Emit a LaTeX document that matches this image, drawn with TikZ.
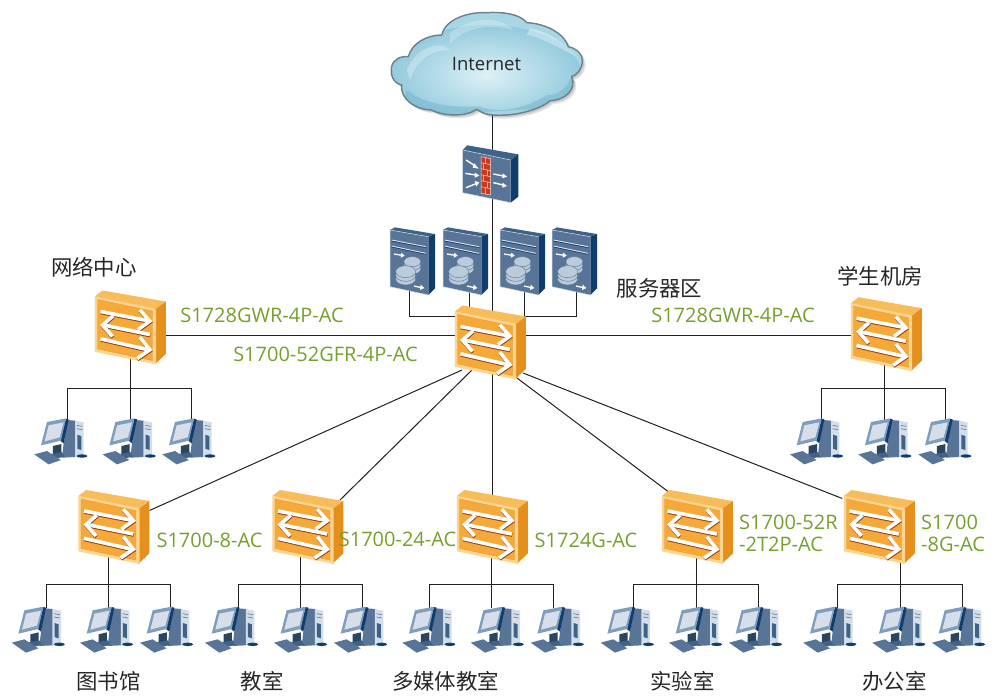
\documentclass[tikz,border=0pt]{standalone}
\usepackage{fontspec}
\setmainfont{Open Sans}
\newfontfamily\cjk{Noto Sans CJK SC}
\definecolor{grn}{HTML}{74A02C}
\definecolor{lnk}{HTML}{202020}
\definecolor{swfront}{HTML}{F6A938}
\definecolor{swtop}{HTML}{F9BC5A}
\definecolor{swside}{HTML}{E58F1C}
\definecolor{swedge}{HTML}{FBD48F}
\definecolor{swframe}{HTML}{E09A35}
\definecolor{shd}{HTML}{8A3A14}
\definecolor{navy}{HTML}{0F3E6E}
\definecolor{steel}{HTML}{587597}
\definecolor{steeltop}{HTML}{3F6288}
\definecolor{disk}{HTML}{BCCBDA}
\definecolor{scr}{HTML}{D6DEE9}
\definecolor{bez}{HTML}{7F9DBD}
\definecolor{towr}{HTML}{D3DEE8}
\definecolor{cldin}{HTML}{DCF1F6}
\definecolor{cldout}{HTML}{93CADD}
\definecolor{cldfill}{HTML}{A8D6E5}
\definecolor{clddark}{HTML}{74B6CF}
\definecolor{cldline}{HTML}{6C8087}
\tikzset{
 dev/.style={inner sep=0pt,minimum width=40pt,minimum height=40pt},
 link/.style={draw=lnk,line width=1pt},
 grnlab/.style={text=grn,font=\fontsize{20}{22}\selectfont,inner sep=0pt},
 cnlab/.style={text=black!85,font=\cjk\fontsize{21.4}{24}\selectfont,inner sep=0pt},
 switchicon/.pic={
  \begin{scope}[x=.3333pt,y=-.3333pt,shift={(-340.5,-139.5)}]
   \fill[swtop] (235,48) -- (258,30) -- (448,63) -- (415,88) -- cycle;
   \fill[swside] (415,88) -- (448,63) -- (448,220) -- (415,252) -- cycle;
   \fill[swedge] (235,48) -- (415,84) -- (419,90) -- (419,252) -- (235,214) -- cycle;
   \fill[swfront] (243,57) -- (408,92) -- (408,240) -- (243,205) -- cycle;
   \draw[swframe,line width=.4pt] (243,57) -- (408,92) -- (408,240) -- (243,205) -- cycle;
   \foreach \dx/\dy/\cc/\ww in {1/3/shd/3.6pt,0/0/white/3.6pt}{
    \begin{scope}[shift={(\dx,\dy)},draw=\cc,line width=\ww]
     \draw (252,93) -- (396,121);
     \draw (370,88) -- (400,122) -- (364,148);
     \draw (400,162) -- (258,133);
     \draw (290,106) -- (258,134) -- (288,168);
     \draw (252,175) -- (396,208);
     \draw (370,170) -- (400,208) -- (362,234);
    \end{scope}
   }
  \end{scope}
 },
 servericon/.pic={
  \begin{scope}[x=.3333pt,y=-.3333pt,shift={(-96,-123)}]
   \fill[steeltop] (30,30) -- (45,22) -- (165,42) -- (145,50) -- cycle;
   \fill[navy] (145,50) -- (165,42) -- (165,205) -- (145,225) -- cycle;
   \fill[steel] (30,30) -- (145,50) -- (145,225) -- (30,200) -- cycle;
   \draw[white!70!steel,line width=.5pt] (30,200) -- (30,30) -- (145,50);
   \draw[white!70!steel,line width=.5pt] (30,200) -- (145,225);
   \draw[navy,line width=.7pt] (35,63) -- (138,83) (35,81) -- (138,103);
   \draw[white!85!steel,line width=.8pt] (35,60) -- (138,80) (35,78) -- (138,100);
   \foreach \yy in {147,136,125}
     {\filldraw[fill=disk,draw=steel,line width=.4pt] (97,\yy) ellipse[x radius=8.5pt,y radius=5pt];}
   \foreach \yy in {177,166,155}
     {\filldraw[fill=disk,draw=steel,line width=.4pt] (77,\yy) ellipse[x radius=10pt,y radius=6pt];}
   \draw[white,line width=1.3pt] (42,102) -- (66,106);
   \fill[white] (64,98) -- (74,107) -- (62,113) -- cycle;
   \draw[white,line width=1.3pt] (102,198) -- (124,203);
   \fill[white] (122,194) -- (133,204) -- (120,210) -- cycle;
  \end{scope}
 },
 firewallicon/.pic={
  \begin{scope}[x=.3333pt,y=-.3333pt,shift={(-330,-522)}]
   \fill[steeltop] (248,450) -- (262,436) -- (415,463) -- (392,480) -- cycle;
   \fill[navy] (392,480) -- (415,463) -- (415,590) -- (392,608) -- cycle;
   \fill[steel] (248,450) -- (392,480) -- (392,608) -- (248,578) -- cycle;
   \draw[white!70!steel,line width=.5pt] (392,608) -- (248,578) -- (248,450) -- (392,480);
   \fill[red!50!brown!90!black] (303,470) -- (332,476) -- (332,585) -- (303,580) -- cycle;
   \draw[white!85!red,line width=.5pt] (303,470) -- (332,476) -- (332,585) -- (303,580) -- cycle
     (303,488) -- (332,494) (303,506) -- (332,512) (303,524) -- (332,530)
     (303,542) -- (332,548) (303,560) -- (332,566)
     (317,473) -- (317,491) (311,491) -- (311,509) (322,509) -- (322,527)
     (311,527) -- (311,545) (322,545) -- (322,563) (316,563) -- (316,582);
   \draw[white,line width=1.4pt]
     (258,480) -- (286,498) (256,520) -- (287,525) (258,563) -- (288,551)
     (340,522) -- (370,528) (340,548) -- (370,555);
   \fill[white] (283,490) -- (296,506) -- (278,503) -- cycle;
   \fill[white] (285,518) -- (298,527) -- (284,533) -- cycle;
   \fill[white] (284,543) -- (298,547) -- (289,559) -- cycle;
   \fill[white] (368,520) -- (381,530) -- (367,535) -- cycle;
   \fill[white] (368,548) -- (381,558) -- (367,563) -- cycle;
  \end{scope}
 },
 pcicon/.pic={
  \begin{scope}[x=.3333pt,y=-.3333pt,shift={(-22,-30)}]
   \fill[steel] (122,40) -- (145,42) -- (145,151) -- (105,153) -- (110,110) -- cycle;
   \fill[towr] (145,42) -- (170,47) -- (170,148) -- (145,152) -- cycle;
   \draw[steel,line width=.6pt] (150,56) -- (166,59) (150,66) -- (166,69);
   \fill[steeltop] (151,84) -- (163,88) -- (163,130) -- (151,126) -- cycle;
   \fill[steeltop!70!black] (78,118) -- (103,112) -- (103,142) -- (78,147) -- cycle;
   \fill[steeltop] (72,142) -- (105,136) -- (112,150) -- (85,156) -- cycle;
   \fill[navy] (117,36) -- (125,38) -- (110,110) -- (100,102) -- cycle;
   \fill[bez] (60,46) -- (117,35) -- (102,102) -- (42,116) -- cycle;
   \fill[scr] (65,56) -- (110,47) -- (98,92) -- (53,104) -- cycle;
   \fill[steel] (22,143) -- (60,133) -- (102,160) -- (65,173) -- cycle;
   \fill[navy] (165,148) ellipse[x radius=5.5pt,y radius=1.7pt];
  \end{scope}
 },
 cloudoutline/.style={insert path={
  (35,200) .. controls (40,178) and (60,168) .. (85,170)
  .. controls (95,130) and (140,105) .. (185,105)
  .. controls (195,60) and (260,35) .. (320,38)
  .. controls (360,35) and (420,40) .. (440,68)
  .. controls (490,70) and (550,95) .. (565,140)
  .. controls (590,145) and (610,165) .. (607,185)
  .. controls (605,210) and (590,225) .. (575,230)
  .. controls (590,265) and (560,300) .. (510,302)
  .. controls (480,330) and (400,350) .. (340,345)
  .. controls (320,345) and (300,335) .. (290,328)
  .. controls (260,350) and (190,350) .. (155,330)
  .. controls (110,330) and (60,300) .. (65,255)
  .. controls (40,250) and (30,225) .. (35,200) -- cycle}},
 cloudicon/.pic={
  \begin{scope}[x=.3333pt,y=-.3333pt,shift={(-336,-195)}]
   \fill[black,opacity=.10,shift={(10,10)},cloudoutline];
   \fill[black,opacity=.12,shift={(6,6)},cloudoutline];
   \begin{scope}
    \clip[cloudoutline];
    \fill[cldfill] (0,0) rectangle (650,380);
    \shade[inner color=cldin,outer color=cldout] (320,225) ellipse[x radius=95pt,y radius=50pt];
    \fill[white,opacity=.28] (80,210) .. controls (110,140) and (180,120) .. (210,150) .. controls (150,150) and (110,180) .. (90,240) -- cycle;
    \fill[white,opacity=.25] (210,100) .. controls (270,50) and (360,45) .. (400,90) .. controls (330,70) and (260,80) .. (210,130) -- cycle;
    \fill[white,opacity=.35] (450,85) .. controls (510,95) and (550,130) .. (590,170) .. controls (530,140) and (480,110) .. (440,105) -- cycle;
    \fill[clddark,opacity=.55] (80,270) .. controls (150,325) and (250,320) .. (300,320) .. controls (360,345) and (450,320) .. (500,285) .. controls (530,290) and (570,260) .. (575,225) -- (600,320) -- (60,350) -- cycle;
   \end{scope}
   \draw[cldline,line width=1.4pt,cloudoutline];
  \end{scope}
 }
}
\begin{document}
\begin{tikzpicture}[x=1pt,y=-1pt]
\useasboundingbox (0,0) rectangle (994,696);
% anchor nodes of the devices
\node[dev] (cloud) at (492,65) {};
\node[dev] (fw) at (490,174) {};
\node[dev] (srv1) at (412,261) {};
\node[dev] (srv2) at (465,261) {};
\node[dev] (srv3) at (522,261) {};
\node[dev] (srv4) at (574,261) {};
\node[dev] (core) at (490,342) {};
\node[dev] (swL) at (130,327) {};
\node[dev] (swR) at (886,333.7) {};
\node[dev] (s1) at (113.5,526.5) {};
\node[dev] (s2) at (307.5,526.5) {};
\node[dev] (s3) at (492,526.5) {};
\node[dev] (s4) at (697,526.5) {};
\node[dev] (s5) at (879,526.5) {};
\coordinate (hbus) at (0,335.3);
\coordinate (sbus) at (0,316.7);
\coordinate (d1) at (409.3,280);
\coordinate (d2) at (469.3,280);
\coordinate (d3) at (524,280);
\coordinate (d4) at (576.7,280);
\coordinate (busL) at (0,388.3);
\coordinate (busB) at (0,584.7);
% PC attachment points
\foreach \n/\x/\y in {L1/67.7/420,L2/130/420,L3/191.7/420,
  R1/821.7/420,R2/884.3/420,R3/945.7/420,
  A1/46/608,A2/108/608,A3/170/608,
  B1/238.3/608,B2/300.7/608,B3/362.3/608,
  C1/429.3/608,C2/491.7/608,C3/553.3/608,
  D1/633.7/608,D2/696.3/608,D3/758/608,
  E1/837.7/608,E2/900.3/608,E3/962.3/608}
  {\coordinate (p\n) at (\x,\y);}
% connectors
\draw[link] (cloud) -- (cloud |- core);
\draw[link] (core -| s3) -- (s3);
\draw[link] (swL |- hbus) -- (swR |- hbus);
\draw[link] (d1) |- (sbus -| core);
\draw[link] (d4) |- (sbus -| core);
\draw[link] (d3) |- (sbus -| core);
\draw[link] (d2) -- (d2 |- core);
\draw[link] ([shift={(-28,28)}]core.center) -- ([shift={(36,-16)}]s1.center);
\draw[link] ([shift={(-18,28)}]core.center) -- ([shift={(32.5,-26.5)}]s2.center);
\draw[link] ([shift={(27,36)}]core.center) -- ([shift={(-29,-35)}]s4.center);
\draw[link] ([shift={(33,31)}]core.center) -- ([shift={(-36.7,-28)}]s5.center);
\foreach \g/\sw/\b in {L/swL/busL,R/swR/busL,A/s1/busB,B/s2/busB,C/s3/busB,D/s4/busB,E/s5/busB}{
  \draw[link] (p\g1) -- (p\g1 |- \b) -- (p\g3 |- \b) -- (p\g3);
  \draw[link] (p\g2) -- (p\g2 |- \sw);
}
% devices
\pic at (cloud) {cloudicon};
\pic at (fw) {firewallicon};
\foreach \n in {srv1,srv2,srv3,srv4} {\pic at (\n) {servericon};}
\foreach \n in {core,swL,swR,s1,s2,s3,s4,s5} {\pic at (\n) {switchicon};}
\foreach \x/\y in {34.3/416.7,102.7/416.7,162.3/416.7,
  790/416.7,858.3/416.7,918.3/416.7,
  11.7/605,80/605,140/605,
  205/605,274/605,334/605,
  402.3/605,470.7/605,530.7/605,
  600.7/605,669/605,729/605,
  803.3/605,872.3/605,932/605}
  {\pic at (\x,\y) {pcicon};}
% labels
\node[inner sep=0pt,text=black!85,font=\fontsize{18.5}{22}\selectfont] (tInternet) at (486.5,64) {Internet};
\node[cnlab] (tNet) at (94,267) {网络中心};
\node[cnlab] (tSrv) at (659.5,288) {服务器区};
\node[cnlab] (tStu) at (880,276) {学生机房};
\node[cnlab] (tLib) at (108.5,681) {图书馆};
\node[cnlab] (tCls) at (262,681) {教室};
\node[cnlab] (tMed) at (445.5,681) {多媒体教室};
\node[cnlab] (tLab) at (682.5,681) {实验室};
\node[cnlab] (tOff) at (894.5,681) {办公室};
\node[grnlab] (m1) at (262,315) {S1728GWR-4P-AC};
\node[grnlab] (m2) at (325.5,354) {S1700-52GFR-4P-AC};
\node[grnlab] (m3) at (733,315) {S1728GWR-4P-AC};
\node[grnlab] (m4) at (209.5,540) {S1700-8-AC};
\node[grnlab] (m5) at (397.5,539) {S1700-24-AC};
\node[grnlab] (m6) at (586,540) {S1724G-AC};
\node[grnlab,align=left,anchor=west] (m7) at (739,533) {S1700-52R\\-2T2P-AC};
\node[grnlab,align=left,anchor=west] (m8) at (921,533) {S1700\\-8G-AC};
\end{tikzpicture}
\end{document}
